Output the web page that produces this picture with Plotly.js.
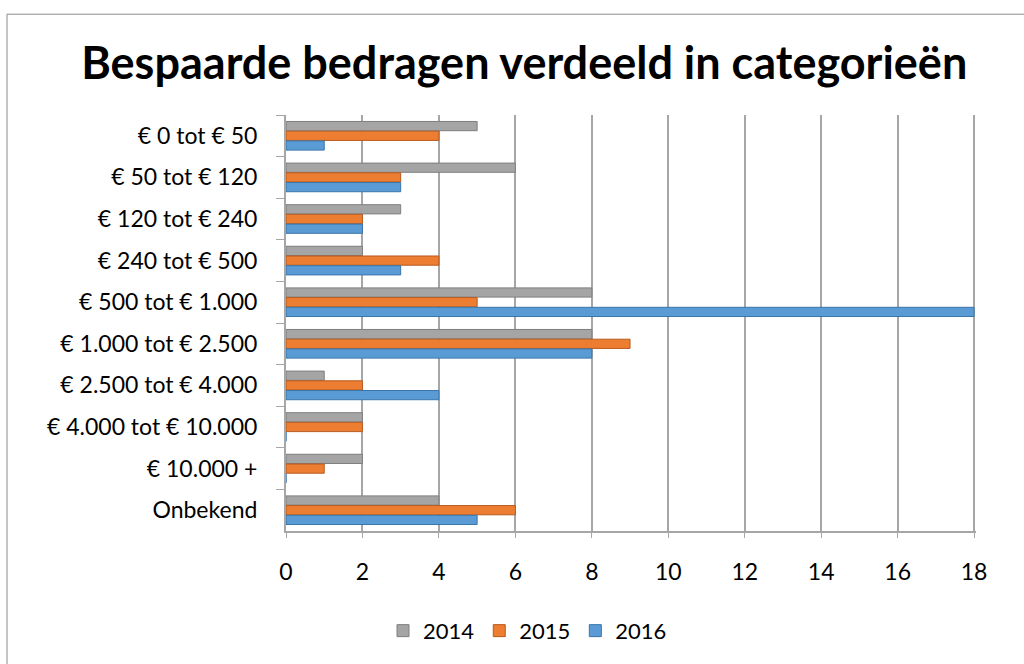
<!DOCTYPE html>
<html>
<head>
<meta charset="utf-8">
<script src="https://cdn.plot.ly/plotly-3.0.1.min.js"></script>
<style>html,body{margin:0;padding:0;background:#fff;}#chart{width:1024px;height:664px;}</style>
</head>
<body>
<div id="chart"></div>
<script>
const categories = ["€ 0 tot € 50","€ 50 tot € 120","€ 120 tot € 240","€ 240 tot € 500","€ 500 tot € 1.000","€ 1.000 tot € 2.500","€ 2.500 tot € 4.000","€ 4.000 tot € 10.000","€ 10.000 +","Onbekend"];
const values2014 = [5,6,3,2,8,8,1,2,2,4];
const values2015 = [4,3,2,4,5,9,2,2,1,6];
const values2016 = [1,3,2,3,18,8,4,0,0,5];
const seriesNames = ["2014","2015","2016"];
const seriesColors = ["#a5a5a5","#ed7d31","#5b9bd5"];
const lineColors = ["#7f7f7f","#b85a1e","#3a75aa"];
const xTicks = [0,2,4,6,8,10,12,14,16,18];

const allValues = [values2014, values2015, values2016];
const traces = allValues.map((v,i)=>({
  type:'bar', orientation:'h', name:seriesNames[i],
  x:v, y:categories,
  marker:{color:seriesColors[i], line:{color:lineColors[i], width:1}},
  hoverinfo:'x+name'
}));

const mT = 115, mB = 124;
const plotW = 1024-286-48, plotH = 664-mT-mB;
const layout = {
  width:1024, height:664,
  paper_bgcolor:'#fff', plot_bgcolor:'#fff',
  font:{family:'Lato, Calibri, sans-serif', color:'#000'},
  title:{text:'<b>Bespaarde bedragen verdeeld in categorieën</b>', x:0.512, xanchor:'center', y:0.905, yanchor:'middle', font:{size:45, family:'Lato, sans-serif', color:'#000'}},
  margin:{l:286, r:48, t:mT, b:mB},
  barmode:'group', bargap:0.3, bargroupgap:0.05,
  xaxis:{range:[0,18.05], tickvals:xTicks, ticktext:xTicks.map(String), showgrid:true, gridcolor:'#a6a6a6', gridwidth:2,
    zeroline:false, showline:true, linecolor:'#a6a6a6', linewidth:2, ticks:'outside', ticklen:5, tickcolor:'#a6a6a6',
    tickfont:{size:23}, ticklabelstandoff:14, fixedrange:true},
  yaxis:{categoryorder:'array', categoryarray:categories, autorange:'reversed', showgrid:false, zeroline:false,
    showline:true, linecolor:'#a6a6a6', linewidth:2, ticks:'outside', ticklen:8, tickcolor:'#a6a6a6', tickson:'boundaries',
    tickfont:{size:23}, ticklabelstandoff:22},
  legend:{orientation:'h', x:0.35, xanchor:'center', y:-0.24, yanchor:'middle', font:{size:22}, itemwidth:30, traceorder:'normal'},
  showlegend:true,
  shapes:[{type:'rect', xref:'paper', yref:'paper', x0:(7-286)/plotW, x1:1.2, y0:-0.5, y1:1+(mT-12)/plotH, line:{color:'#8c8c8c', width:1}, layer:'below'}]
};
Plotly.newPlot('chart', traces, layout, {displayModeBar:false, staticPlot:true});
</script>
</body>
</html>
